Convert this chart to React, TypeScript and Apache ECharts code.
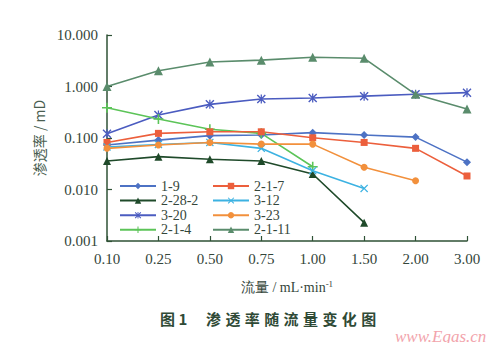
import React, { useEffect, useRef } from "react";
import * as echarts from "echarts";

const categories = ["0.10", "0.25", "0.50", "0.75", "1.00", "1.50", "2.00", "3.00"];
const yTicks = ["0.001", "0.010", "0.100", "1.000", "10.000"];

const s1_9 = [0.073, 0.091, 0.111, 0.114, 0.127, 0.114, 0.104, 0.034];
const s2_28_2 = [0.0357, 0.0434, 0.0386, 0.0357, 0.020, 0.00227, null, null];
const s3_20 = [0.121, 0.28, 0.45, 0.57, 0.6, 0.65, 0.706, 0.76];
const s2_1_4 = [0.387, 0.234, 0.148, 0.123, 0.0277, null, null, null];
const s2_1_7 = [0.082, 0.123, 0.132, 0.132, 0.101, 0.082, 0.063, 0.0183];
const s3_12 = [0.067, 0.075, 0.082, 0.063, 0.0232, 0.0105, null, null];
const s3_23 = [0.063, 0.073, 0.082, 0.076, 0.076, 0.027, 0.0148, null];
const s2_1_11 = [1.0, 2.03, 3.0, 3.25, 3.69, 3.53, 0.706, 0.366];

const plusPath = "path://M4.2,0H5.8V10H4.2ZM0,4.2H10V5.8H0Z";
const crossPath = "path://M1.1,0L5,3.9L8.9,0L10,1.1L6.1,5L10,8.9L8.9,10L5,6.1L1.1,10L0,8.9L3.9,5L0,1.1Z";
const starPath =
  "path://M4.3,0H5.7V10H4.3ZM1.1,0L5,3.9L8.9,0L10,1.1L6.1,5L10,8.9L8.9,10L5,6.1L1.1,10L0,8.9L3.9,5L0,1.1Z";

const seriesDefs = [
  { name: "1-9", data: s1_9, color: "#4d72c4", symbol: "diamond", size: 8 },
  { name: "2-28-2", data: s2_28_2, color: "#1f4a2a", symbol: "triangle", size: 8 },
  { name: "3-20", data: s3_20, color: "#4b5cc0", symbol: starPath, size: 9 },
  { name: "2-1-4", data: s2_1_4, color: "#5cc458", symbol: plusPath, size: 10 },
  { name: "2-1-7", data: s2_1_7, color: "#ec5f3c", symbol: "rect", size: 7 },
  { name: "3-12", data: s3_12, color: "#3cb2e2", symbol: crossPath, size: 8 },
  { name: "3-23", data: s3_23, color: "#f2903c", symbol: "circle", size: 7 },
  { name: "2-1-11", data: s2_1_11, color: "#5a8c6c", symbol: "triangle", size: 9 },
];

const axisColor = "#2f5236";
const textColor = "#34463a";
const serif = "Liberation Serif";
const titleChars = ["渗", "透", "率", "随", "流", "量", "变", "化", "图"];

export default function App() {
  const ref = useRef<HTMLDivElement>(null);
  useEffect(() => {
    if (!ref.current) return;
    const chart = echarts.init(ref.current, undefined, { renderer: "svg" });
    const legendText = { color: textColor, fontFamily: serif, fontSize: 14, lineHeight: 14 };
    const legendBase = {
      orient: "vertical",
      top: 179,
      itemWidth: 36,
      itemHeight: 8,
      itemGap: 0.6,
      textStyle: legendText,
      padding: 0,
    };
    chart.setOption({
      animation: false,
      backgroundColor: "#ffffff",
      grid: { left: 107, right: 33, top: 35, bottom: 110 },
      legend: [
        { ...legendBase, data: seriesDefs.slice(0, 4).map((s) => s.name), left: 119 },
        { ...legendBase, data: seriesDefs.slice(4).map((s) => s.name), left: 212 },
      ],
      xAxis: {
        type: "category",
        data: categories,
        boundaryGap: false,
        axisLine: { lineStyle: { color: axisColor, width: 1.5 } },
        axisTick: { inside: true, length: 5, lineStyle: { color: axisColor, width: 1.2 } },
        axisLabel: { color: textColor, fontFamily: serif, fontSize: 15, margin: 10 },
        name: "{a|流量 / mL·min}{s|-1}",
        nameLocation: "middle",
        nameGap: 38,
        nameTextStyle: {
          rich: {
            a: { color: textColor, fontFamily: serif, fontSize: 14 },
            s: { color: textColor, fontFamily: serif, fontSize: 9, verticalAlign: "top", padding: [0, 0, 8, 0] },
          },
        },
        splitLine: { show: false },
      },
      yAxis: {
        type: "log",
        logBase: 10,
        min: 0.001,
        max: 10,
        axisLine: { show: true, lineStyle: { color: axisColor, width: 1.5 } },
        axisTick: { show: true, inside: true, length: 5, lineStyle: { color: axisColor, width: 1.2 } },
        axisLabel: {
          color: textColor,
          fontFamily: serif,
          fontSize: 15,
          margin: 9,
          formatter: (v: number) => {
            const idx = Math.round(Math.log10(v)) + 3;
            return yTicks[idx] ?? v.toFixed(3);
          },
        },
        splitLine: { show: false },
        name: "渗透率 / mD",
        nameLocation: "middle",
        nameGap: 56,
        nameTextStyle: { color: "#4a5e50", fontFamily: "Noto Sans CJK SC", fontSize: 14 },
      },
      series: seriesDefs.map((s) => ({
        name: s.name,
        type: "line",
        data: s.data,
        connectNulls: false,
        symbol: s.symbol,
        symbolSize: s.size,
        showAllSymbol: true,
        lineStyle: { color: s.color, width: 1.6 },
        itemStyle: { color: s.color },
      })),
      graphic: [
        {
          type: "text",
          left: 160,
          top: 311,
          style: { text: "图 1", fill: "#2f4a36", font: "bold 15px 'Noto Sans CJK SC', sans-serif" },
        },
        ...titleChars.map((c, i) => ({
          type: "text",
          left: 206 + i * 19.4,
          top: 311,
          style: { text: c, fill: "#2f4a36", font: "bold 15px 'Noto Sans CJK SC', sans-serif" },
        })),
        {
          type: "text",
          left: 395,
          top: 328,
          style: {
            text: "www.Egas.cn",
            fill: "#f2a4ac",
            font: "italic 17px 'Liberation Serif', serif",
          },
        },
      ],
    });
    return () => chart.dispose();
  }, []);
  return <div ref={ref} style={{ width: 500, height: 351, margin: -8 }} />;
}
